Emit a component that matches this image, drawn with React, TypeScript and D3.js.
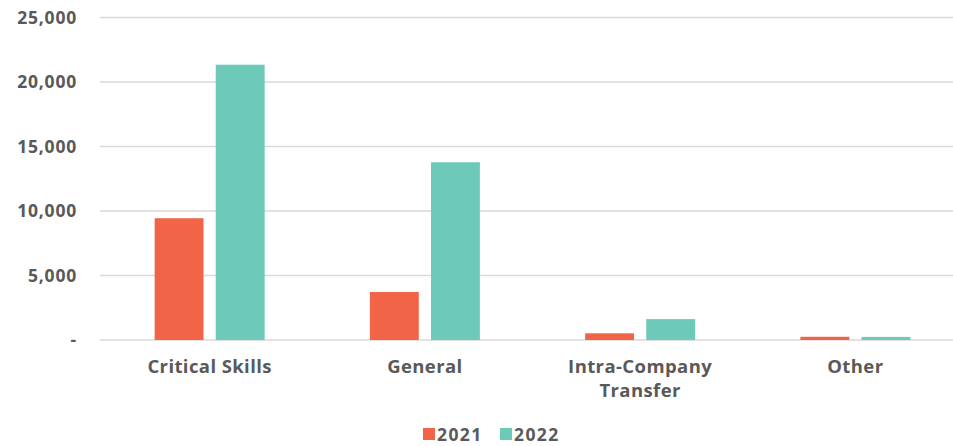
import React from "react";
import * as d3 from "d3";

const categories = ["Critical Skills", "General", "Intra-Company Transfer", "Other"];
const categoryLines = [["Critical Skills"], ["General"], ["Intra-Company", "Transfer"], ["Other"]];
const years = ["2021", "2022"];
const values2021 = [9440, 3720, 520, 250];
const values2022 = [21340, 13780, 1620, 240];
const yTicks = [0, 5000, 10000, 15000, 20000, 25000];
const colors = ["#F26448", "#6DC9B8"];

export default function App() {
  const W = 953, H = 446;
  const left = 102, right = 963, top = 17.5, bottom = 340;
  const x0 = d3.scaleBand().domain(categories).range([left, right]).padding(0);
  const y = d3.scaleLinear().domain([0, 25000]).range([bottom, top]);
  const groupW = 110;
  const x1 = d3.scaleBand().domain(years).range([0, groupW]).paddingInner(0.2);
  const series = [values2021, values2022];
  const fmt = (v: number) => (v === 0 ? "-" : d3.format(",")(v));
  const font = "'Open Sans', sans-serif";
  return (
    <svg width={W} height={H} style={{ position: "absolute", left: 0, top: 0, background: "#fff" }}>
      {yTicks.map((t) => (
        <g key={t}>
          <line x1={100} x2={953} y1={y(t)} y2={y(t)} stroke="#d9d9d9" strokeWidth={1.3} />
          <text x={77} y={y(t)} dy="0.35em" textAnchor="end" fontFamily={font} fontWeight={700} fontSize={17.5} letterSpacing={0.8} fill="#595959">
            {fmt(t)}
          </text>
        </g>
      ))}
      {categories.map((c, i) => {
        const cx = (x0(c) as number) + x0.bandwidth() / 2;
        const gx = cx - groupW / 2;
        return (
          <g key={c}>
            {years.map((yr, j) => {
              const v = series[j][i];
              return (
                <rect key={yr} x={gx + (x1(yr) as number)} y={y(v)} width={x1.bandwidth()} height={bottom - y(v)} fill={colors[j]} />
              );
            })}
            {categoryLines[i].map((ln, k) => (
              <text key={k} x={cx} y={373 + k * 24} textAnchor="middle" fontFamily={font} fontWeight={700} fontSize={18.5} letterSpacing={0.4} fill="#595959">
                {ln}
              </text>
            ))}
          </g>
        );
      })}
      {years.map((yr, j) => {
        const lx = j === 0 ? 423 : 500;
        return (
          <g key={yr}>
            <rect x={lx} y={428} width={12} height={12} fill={colors[j]} />
            <text x={lx + 14} y={441} fontFamily={font} fontWeight={700} fontSize={17.5} letterSpacing={1.4} fill="#595959">{yr}</text>
          </g>
        );
      })}
    </svg>
  );
}
